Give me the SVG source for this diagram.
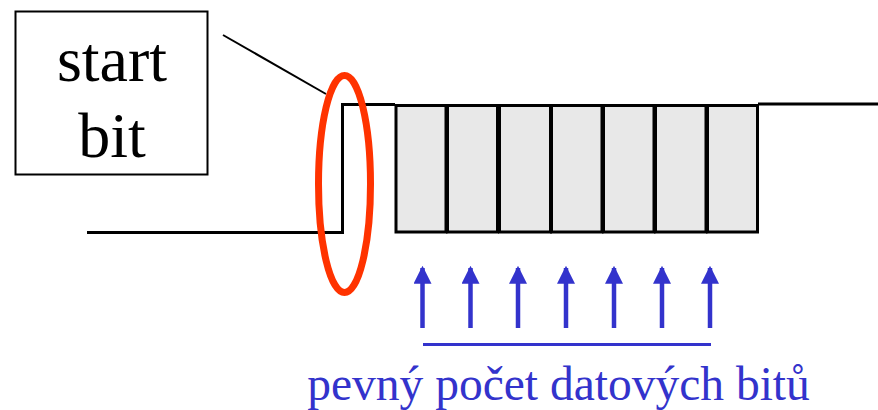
<svg xmlns="http://www.w3.org/2000/svg" width="878" height="410" viewBox="0 0 878 410">
<style>
.sig{fill:none;stroke:#000;stroke-width:3;stroke-linejoin:miter}
.bit{fill:#E8E8E8;stroke:#000;stroke-width:3}
.arr{stroke:#3333CC;stroke-width:4.5;fill:none;marker-end:url(#ah)}
.lbl{text-anchor:middle;font-family:"Liberation Serif","Times New Roman",Times,Tinos,"Nimbus Roman","Nimbus Roman No9 L",FreeSerif,"Noto Serif","DejaVu Serif",serif}
</style>
<defs>
<marker id="ah" markerWidth="4" markerHeight="4" viewBox="0 0 16 16" refX="14" refY="8" orient="auto" markerUnits="strokeWidth">
<path d="M0,0 L16,8 L0,16 Z" fill="#3333CC"/>
</marker>
</defs>
<g id="startbit">
<rect x="15.5" y="11.5" width="192" height="163" fill="#fff" stroke="#000" stroke-width="2"/>
<text class="lbl" x="112" y="81" font-size="64">start</text>
<text class="lbl" x="112" y="157" font-size="64">bit</text>
</g>
<g id="signal">
<polyline class="sig" points="87,232.5 342.5,232.5 342.5,104.5 395,104.5"/>
<line class="sig" x1="758" y1="104" x2="878" y2="104"/>
</g>
<g id="bits">
<rect class="bit" x="396" y="105.5" width="50" height="126.5"/>
<rect class="bit" x="447.5" y="105.5" width="50" height="126.5"/>
<rect class="bit" x="499.5" y="105.5" width="51" height="126.5"/>
<rect class="bit" x="551.5" y="105.5" width="50.5" height="126.5"/>
<rect class="bit" x="603.5" y="105.5" width="50.5" height="126.5"/>
<rect class="bit" x="655.5" y="105.5" width="50.5" height="126.5"/>
<rect class="bit" x="707.5" y="105.5" width="50" height="126.5"/>
</g>
<g id="connectors">
<line x1="223" y1="35" x2="326" y2="94" stroke="#000" stroke-width="2"/>
<line class="arr" x1="422.5" y1="328" x2="422.5" y2="268"/>
<line class="arr" x1="470.5" y1="328" x2="470.5" y2="268"/>
<line class="arr" x1="518" y1="328" x2="518" y2="268"/>
<line class="arr" x1="566" y1="328" x2="566" y2="268"/>
<line class="arr" x1="614" y1="328" x2="614" y2="268"/>
<line class="arr" x1="662" y1="328" x2="662" y2="268"/>
<line class="arr" x1="710" y1="328" x2="710" y2="268"/>
<line x1="423" y1="344.5" x2="711" y2="344.5" stroke="#3333CC" stroke-width="3"/>
</g>
<g id="highlight">
<ellipse cx="344.5" cy="184" rx="26" ry="108.5" fill="none" stroke="#FF3300" stroke-width="7"/>
</g>
<g id="caption">
<text class="lbl" x="558.5" y="400" font-size="47.5" fill="#3333CC">pevný počet datových bitů</text>
</g>
</svg>
